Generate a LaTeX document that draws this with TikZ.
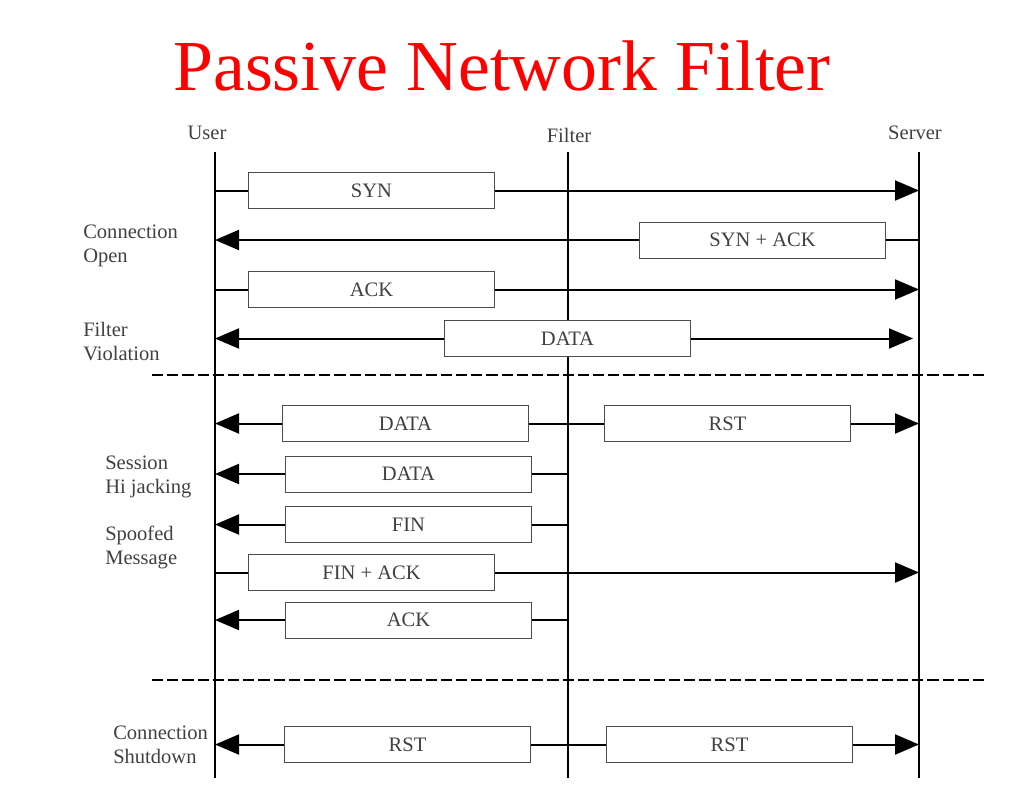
\documentclass[tikz,border=0pt]{standalone}
\usepackage{fontspec}
\setmainfont{Liberation Serif}
\usetikzlibrary{arrows.meta}
\definecolor{titlered}{RGB}{255,0,0}
\definecolor{textgray}{RGB}{64,64,64}
\begin{document}
\begin{tikzpicture}[x=0.025cm,y=-0.025cm,
    lifeline/.style={line width=0.06cm},
    msgline/.style={line width=0.05cm},
    msgarrow/.style={msgline,-{Triangle[length=0.6cm,width=0.5cm]}},
    msgbox/.style={draw=black!70,line width=0.025cm,fill=white,minimum width=6.125cm,minimum height=0.9cm,inner sep=0pt,text=textgray},
    sepline/.style={line width=0.05cm,dash pattern=on 0.28cm off 0.1cm},
    lanelabel/.style={text=textgray,align=left,inner sep=0pt,anchor=base west}]
                \useasboundingbox (0,0) rectangle (1011,798);
                {\fontsize{14.6}{17}\selectfont

                % Marking title
                \node [text=titlered,font=\fontsize{51}{60}\selectfont,anchor=base] (title) at (502,90) {Passive Network Filter};%

                % Drawing lifelines user, filter, server
                \coordinate (user) at (215,152);%
                \coordinate (filter) at (568,152);%
                \coordinate (server) at (919,152);%
                \draw [lifeline] (user) -- (215,778);%
                \draw [lifeline] (filter) -- (568,778);%
                \draw [lifeline] (server) -- (919,778);%

                % Marking lifeline names
                \node [text=textgray,anchor=base] (username) at (207,139) {User};%
                \node [text=textgray,anchor=base] (filtername) at (569,142) {Filter};%
                \node [text=textgray,anchor=base] (servername) at (915,139) {Server};%

                % Drawing separators
                \draw [sepline] (152,375) -- (985,375);%
                \draw [sepline] (152,680) -- (985,680);%

                % Marking message boxes
                \node [msgbox] (syn) at (371.5,190.5) {SYN};%
                \node [msgbox] (synack) at (762.5,240) {SYN + ACK};%
                \node [msgbox] (ack) at (371.5,289.5) {ACK};%
                \node [msgbox] (violdata) at (567.5,338.5) {DATA};%
                \node [msgbox] (hijdata) at (405.5,423.5) {DATA};%
                \node [msgbox] (hijrst) at (727.5,423.5) {RST};%
                \node [msgbox] (spfdata) at (408.5,474) {DATA};%
                \node [msgbox] (spffin) at (408.5,524.5) {FIN};%
                \node [msgbox] (finack) at (371.5,572.5) {FIN + ACK};%
                \node [msgbox] (spfack) at (408.5,620) {ACK};%
                \node [msgbox] (downrst) at (407.5,744.5) {RST};%
                \node [msgbox] (srvrst) at (729.5,744.5) {RST};%

                % Drawing connection open
                \draw [msgline] (user |- syn) -- (syn.west);%
                \draw [msgarrow] (syn.east) -- (server |- syn);%
                \draw [msgline] (server |- synack) -- (synack.east);%
                \draw [msgarrow] (synack.west) -- (user |- synack);%
                \draw [msgline] (user |- ack) -- (ack.west);%
                \draw [msgarrow] (ack.east) -- (server |- ack);%

                % Drawing filter violation
                \coordinate (violend) at (913,338.5);%
                \draw [msgarrow] (violdata.west) -- (user |- violdata);%
                \draw [msgarrow] (violdata.east) -- (violend);%

                % Drawing session hijacking
                \draw [msgarrow] (hijdata.west) -- (user |- hijdata);%
                \draw [msgline] (hijdata.east) -- (filter |- hijdata);%
                \draw [msgline] (filter |- hijrst) -- (hijrst.west);%
                \draw [msgarrow] (hijrst.east) -- (server |- hijrst);%
                \draw [msgarrow] (spfdata.west) -- (user |- spfdata);%
                \draw [msgline] (spfdata.east) -- (filter |- spfdata);%

                % Drawing spoofed message
                \draw [msgarrow] (spffin.west) -- (user |- spffin);%
                \draw [msgline] (spffin.east) -- (filter |- spffin);%
                \draw [msgline] (user |- finack) -- (finack.west);%
                \draw [msgarrow] (finack.east) -- (server |- finack);%
                \draw [msgarrow] (spfack.west) -- (user |- spfack);%
                \draw [msgline] (spfack.east) -- (filter |- spfack);%

                % Drawing connection shutdown
                \draw [msgarrow] (downrst.west) -- (user |- downrst);%
                \draw [msgline] (downrst.east) -- (filter |- downrst);%
                \draw [msgline] (filter |- srvrst) -- (srvrst.west);%
                \draw [msgarrow] (srvrst.east) -- (server |- srvrst);%

                % Marking lane labels (anchored at the last line)
                \node [lanelabel] (openlabel) at (83,262) {Connection\\Open};%
                \node [lanelabel] (violabel) at (83,360) {Filter\\Violation};%
                \node [lanelabel] (hijlabel) at (105,493) {Session\\Hi jacking};%
                \node [lanelabel] (spflabel) at (105,564) {Spoofed\\Message};%
                \node [lanelabel] (downlabel) at (113,763) {Connection\\Shutdown};%
                }
            \end{tikzpicture}
\end{document}
